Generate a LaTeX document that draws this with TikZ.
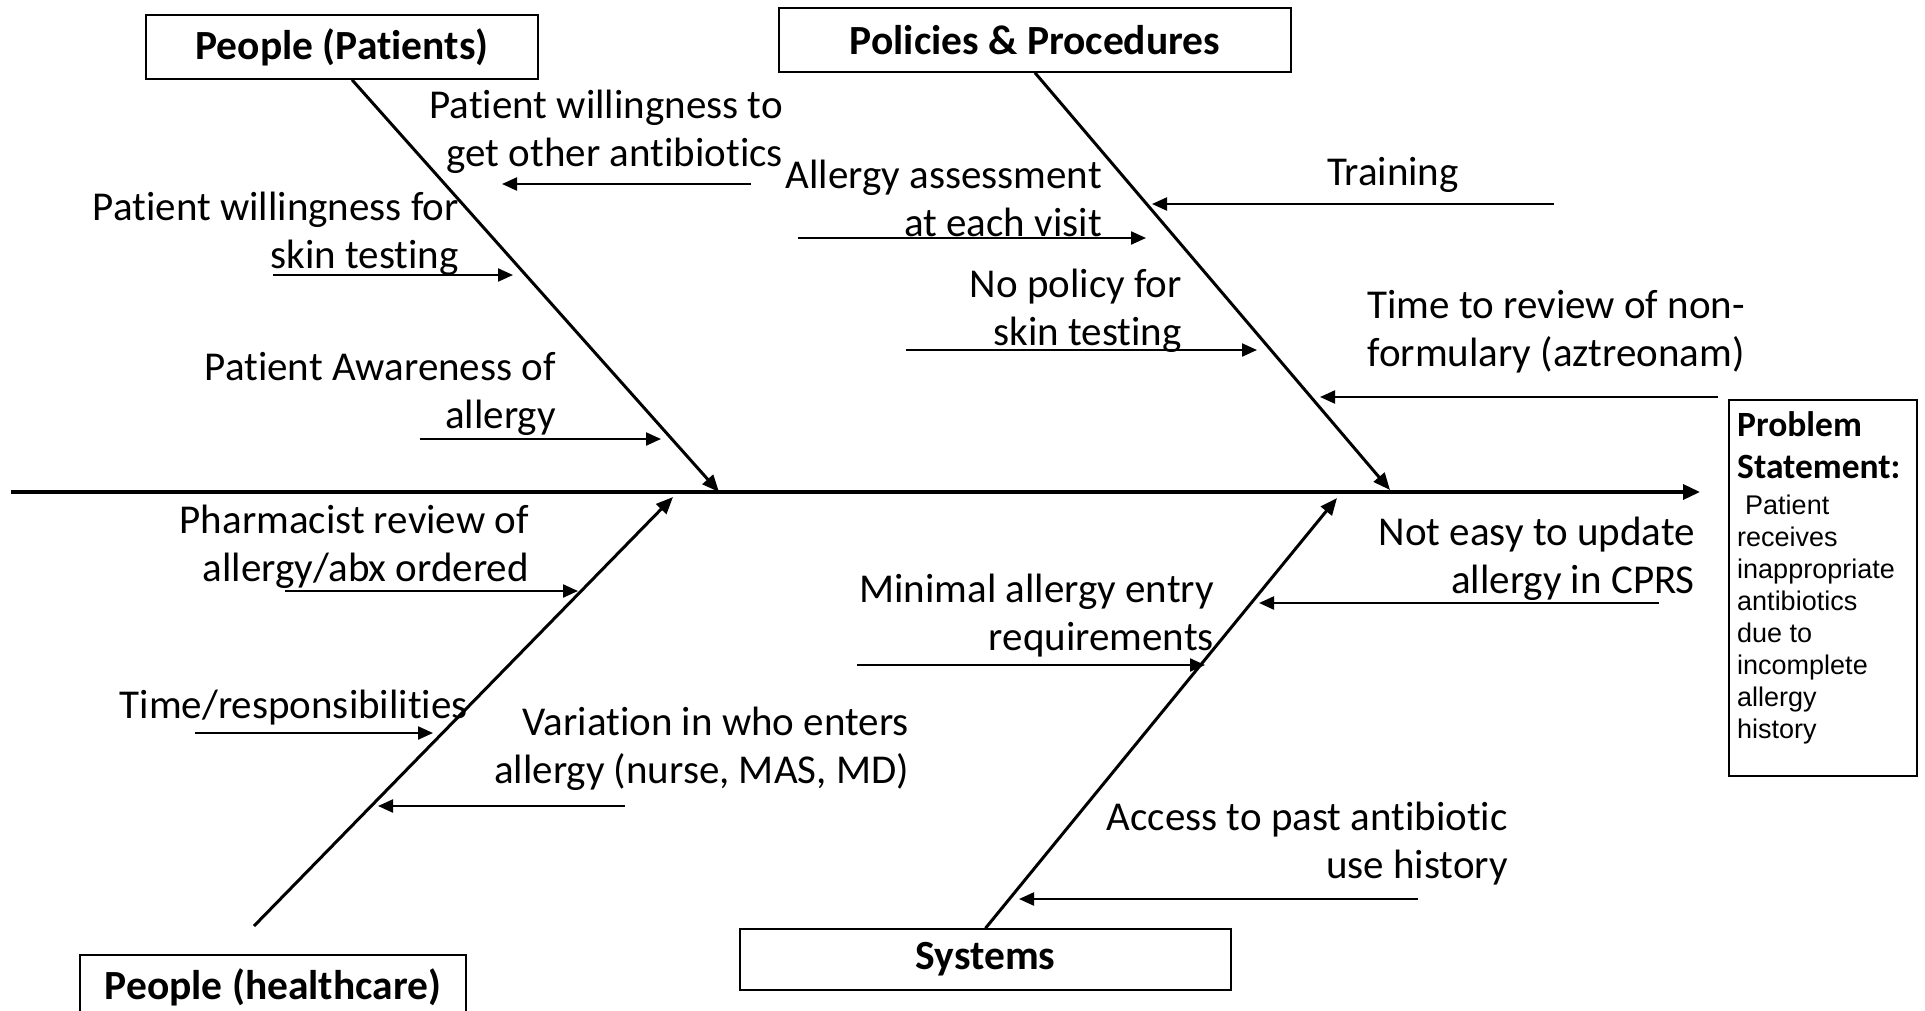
\documentclass[tikz,border=0pt]{standalone}
\usepackage{fontspec}
\setmainfont{Carlito}[Ligatures=NoCommon]
\newfontfamily\arialfnt{Liberation Sans}
\usetikzlibrary{arrows.meta}
\tikzset{
  lbl/.style={align=right, inner sep=0pt, anchor=base east, font=\fontsize{41}{48}\selectfont},
  catbox/.style={draw, line width=1.6pt, inner sep=0pt, font=\fontsize{41.5}{48}\selectfont\bfseries},
  bone/.style={line width=3pt, -{Triangle[length=17pt,width=14pt]}},
  twig/.style={line width=2.2pt, -{Triangle[length=15pt,width=13pt]}}
}
\begin{document}
\begin{tikzpicture}[x=1pt,y=-1pt]
\useasboundingbox (0,0) rectangle (1925,1010);
\clip (0,0) rectangle (1925,1010);
% categories
\path
(342,47) node[catbox,minimum width=392pt,minimum height=64pt](c1){People (Patients)}
(1035,40) node[catbox,minimum width=512pt,minimum height=64pt](c2){Policies \& Procedures}
(273,987) node[catbox,minimum width=386pt,minimum height=64pt](c3){People (healthcare)}
(985.5,959.5) node[catbox,minimum width=491pt,minimum height=61pt](c4){Systems};
% problem statement
\node[draw,line width=1.6pt,minimum width=188pt,minimum height=376pt,inner sep=0pt] (prob) at (1823,588) {};
\node[anchor=base west,align=left,inner sep=0pt,font=\fontsize{35.5}{42}\selectfont\bfseries] (probhd) at (1737,478) {Problem\\Statement:};
\node[anchor=base west,align=left,inner sep=0pt,font=\arialfnt\fontsize{27}{32}\selectfont] (probtx) at (1737,738)
{\hspace{8pt}Patient\\receives\\inappropriate\\antibiotics\\due to\\incomplete\\allergy\\history};
% spine and bones
\path
(11,492) coordinate(s0)
(1700,492) coordinate(s1)
(719,492) coordinate(j1)
(1390,490) coordinate(j2)
(673,497) coordinate(j3)
(1337,498) coordinate(j4)
(254,926) coordinate(h0);
\path[draw,line width=3.5pt,-{Triangle[length=17pt,width=15pt]}] (s0)--(s1);
\path[draw,bone] ([xshift=10pt]c1.south)--(j1);
\path[draw,bone] (c2.south)--(j2);
\path[draw,bone] (h0)--(j3);
\path[draw,bone] (c4.north)--(j4);
% causes
\path
(783,166) node[lbl](t1){Patient willingness to\\get other antibiotics}
(459,268) node[lbl](t2){Patient willingness for\\skin testing}
(556,428) node[lbl](t3){Patient Awareness of\\allergy}
(1102,236) node[lbl](t4){Allergy assessment\\at each visit}
(1182,345) node[lbl](t5){No policy for\\skin testing}
(1459,185) node[lbl](t6){Training}
(1745,366) node[lbl](t7){Time to review of non-\\formulary (aztreonam)}
(529,581) node[lbl](t8){Pharmacist review of\\allergy/abx ordered}
(468,718) node[lbl](t9){Time/responsibilities}
(909,783) node[lbl](t10){Variation in who enters\\allergy (nurse, MAS, MD)}
(1695,593) node[lbl](t11){Not easy to update\\allergy in CPRS}
(1214,650) node[lbl](t12){Minimal allergy entry\\requirements}
(1508,878) node[lbl](t13){Access to past antibiotic\\use history};
% cause arrows
\path
(751,184) coordinate(a1) (502,184) coordinate(b1)
(273,275) coordinate(a2) (513,275) coordinate(b2)
(420,439) coordinate(a3) (661,439) coordinate(b3)
(798,238) coordinate(a4) (1146,238) coordinate(b4)
(906,350) coordinate(a5) (1257,350) coordinate(b5)
(1554,204) coordinate(a6) (1152,204) coordinate(b6)
(1718,397) coordinate(a7) (1320,397) coordinate(b7)
(285,591) coordinate(a8) (578,591) coordinate(b8)
(195,733) coordinate(a9) (433,733) coordinate(b9)
(625,806) coordinate(a10) (378,806) coordinate(b10)
(1659,603) coordinate(a11) (1259,603) coordinate(b11)
(857,665) coordinate(a12) (1205,665) coordinate(b12)
(1418,899) coordinate(a13) (1019,899) coordinate(b13);
\path[draw,twig] (a1)--(b1);
\path[draw,twig] (a2)--(b2);
\path[draw,twig] (a3)--(b3);
\path[draw,twig] (a4)--(b4);
\path[draw,twig] (a5)--(b5);
\path[draw,twig] (a6)--(b6);
\path[draw,twig] (a7)--(b7);
\path[draw,twig] (a8)--(b8);
\path[draw,twig] (a9)--(b9);
\path[draw,twig] (a10)--(b10);
\path[draw,twig] (a11)--(b11);
\path[draw,twig] (a12)--(b12);
\path[draw,twig] (a13)--(b13);
\end{tikzpicture}
\end{document}
